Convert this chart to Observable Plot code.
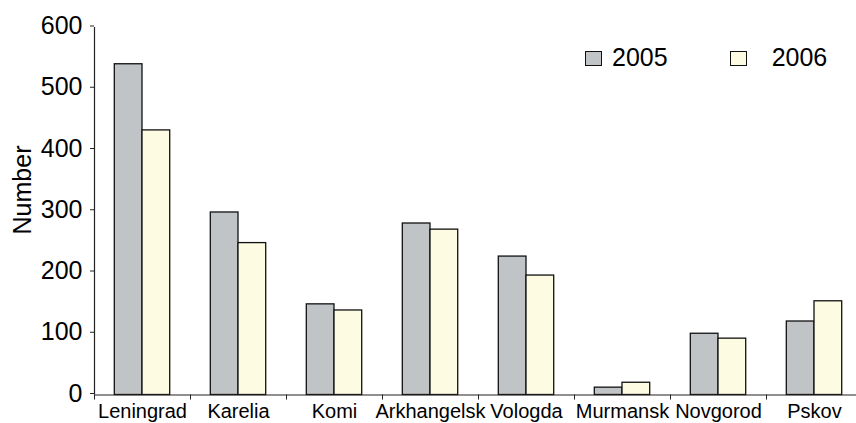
<!DOCTYPE html>
<html>
<head>
<meta charset="utf-8">
<script src="https://cdn.jsdelivr.net/npm/d3@7"></script>
<script src="https://cdn.jsdelivr.net/npm/@observablehq/plot@0.6"></script>
<style>
  html, body { margin: 0; padding: 0; background: #fff; }
  #wrap { position: relative; width: 856px; height: 423px; font-family: "Liberation Sans", Arial, Helvetica, sans-serif; }
  .legend { position: absolute; top: 45px; left: 585px; display: flex; align-items: center; font-size: 25px; line-height: 25px; color: #000; }
  .sw { display: inline-block; width: 17px; height: 15px; box-sizing: border-box; border: 1.4px solid #111; margin-top: 6px; }
  .item { display: flex; align-items: flex-start; }
</style>
</head>
<body>
<div id="wrap"></div>
<script>
const categories = ["Leningrad", "Karelia", "Komi", "Arkhangelsk", "Vologda", "Murmansk", "Novgorod", "Pskov"];
const v2005 = [540, 298, 148, 280, 226, 12, 100, 120];
const v2006 = [432, 248, 138, 270, 195, 20, 92, 153];
const years = ["2005", "2006"];
const yTicks = [0, 100, 200, 300, 400, 500, 600];
const yLabel = "Number";
const colors = {"2005": "#c1c4c6", "2006": "#fefbe3"};

const d05 = categories.map((c, i) => ({cat: c, value: v2005[i]}));
const d06 = categories.map((c, i) => ({cat: c, value: v2006[i]}));

const chart = Plot.plot({
  width: 856,
  height: 423,
  marginLeft: 94,
  marginRight: 0,
  marginTop: 27,
  marginBottom: 28.5,
  style: {fontFamily: "'Liberation Sans', Arial, Helvetica, sans-serif", fontSize: "25px", color: "#000", background: "#fff"},
  x: {type: "band", domain: categories, range: [94, 862], padding: 0},
  y: {domain: [0, 600]},
  marks: [
    Plot.barY(d05, {x: "cat", y: "value", fill: colors["2005"], stroke: "#111", strokeWidth: 1.3, insetLeft: 20.3, insetRight: 48}),
    Plot.barY(d06, {x: "cat", y: "value", fill: colors["2006"], stroke: "#111", strokeWidth: 1.3, insetLeft: 48, insetRight: 20.3}),
    Plot.ruleY([0], {stroke: "#222", strokeWidth: 1.2}),
    Plot.ruleX([categories[0]], {dx: -48, stroke: "#222", strokeWidth: 1.2}),
    Plot.axisY({ticks: yTicks, tickSize: 4, tickPadding: 8, fontSize: "25px", dy: -1.5, stroke: "#222", label: null}),
    Plot.axisX({tickSize: 5, dx: -48, tickFormat: () => "", stroke: "#222", label: null}),
    Plot.axisX({tickSize: 0, tickPadding: 9, fontSize: "20px", label: null})
  ]
});

d3.select(chart).append("text")
  .attr("transform", "translate(22,190) rotate(-90)")
  .attr("text-anchor", "middle")
  .attr("dy", "0.35em")
  .attr("font-size", 25)
  .attr("fill", "#000")
  .text(yLabel);

const wrap = document.getElementById("wrap");
wrap.appendChild(chart);

const legend = document.createElement("div");
legend.className = "legend";
years.forEach((yr, i) => {
  const item = document.createElement("div");
  item.className = "item";
  item.style.marginRight = i === 0 ? "62px" : "0";
  const sw = document.createElement("span");
  sw.className = "sw";
  sw.style.background = colors[yr];
  sw.style.marginRight = i === 0 ? "10px" : "25px";
  const t = document.createElement("span");
  t.textContent = yr;
  item.appendChild(sw);
  item.appendChild(t);
  legend.appendChild(item);
});
wrap.appendChild(legend);
</script>
</body>
</html>
